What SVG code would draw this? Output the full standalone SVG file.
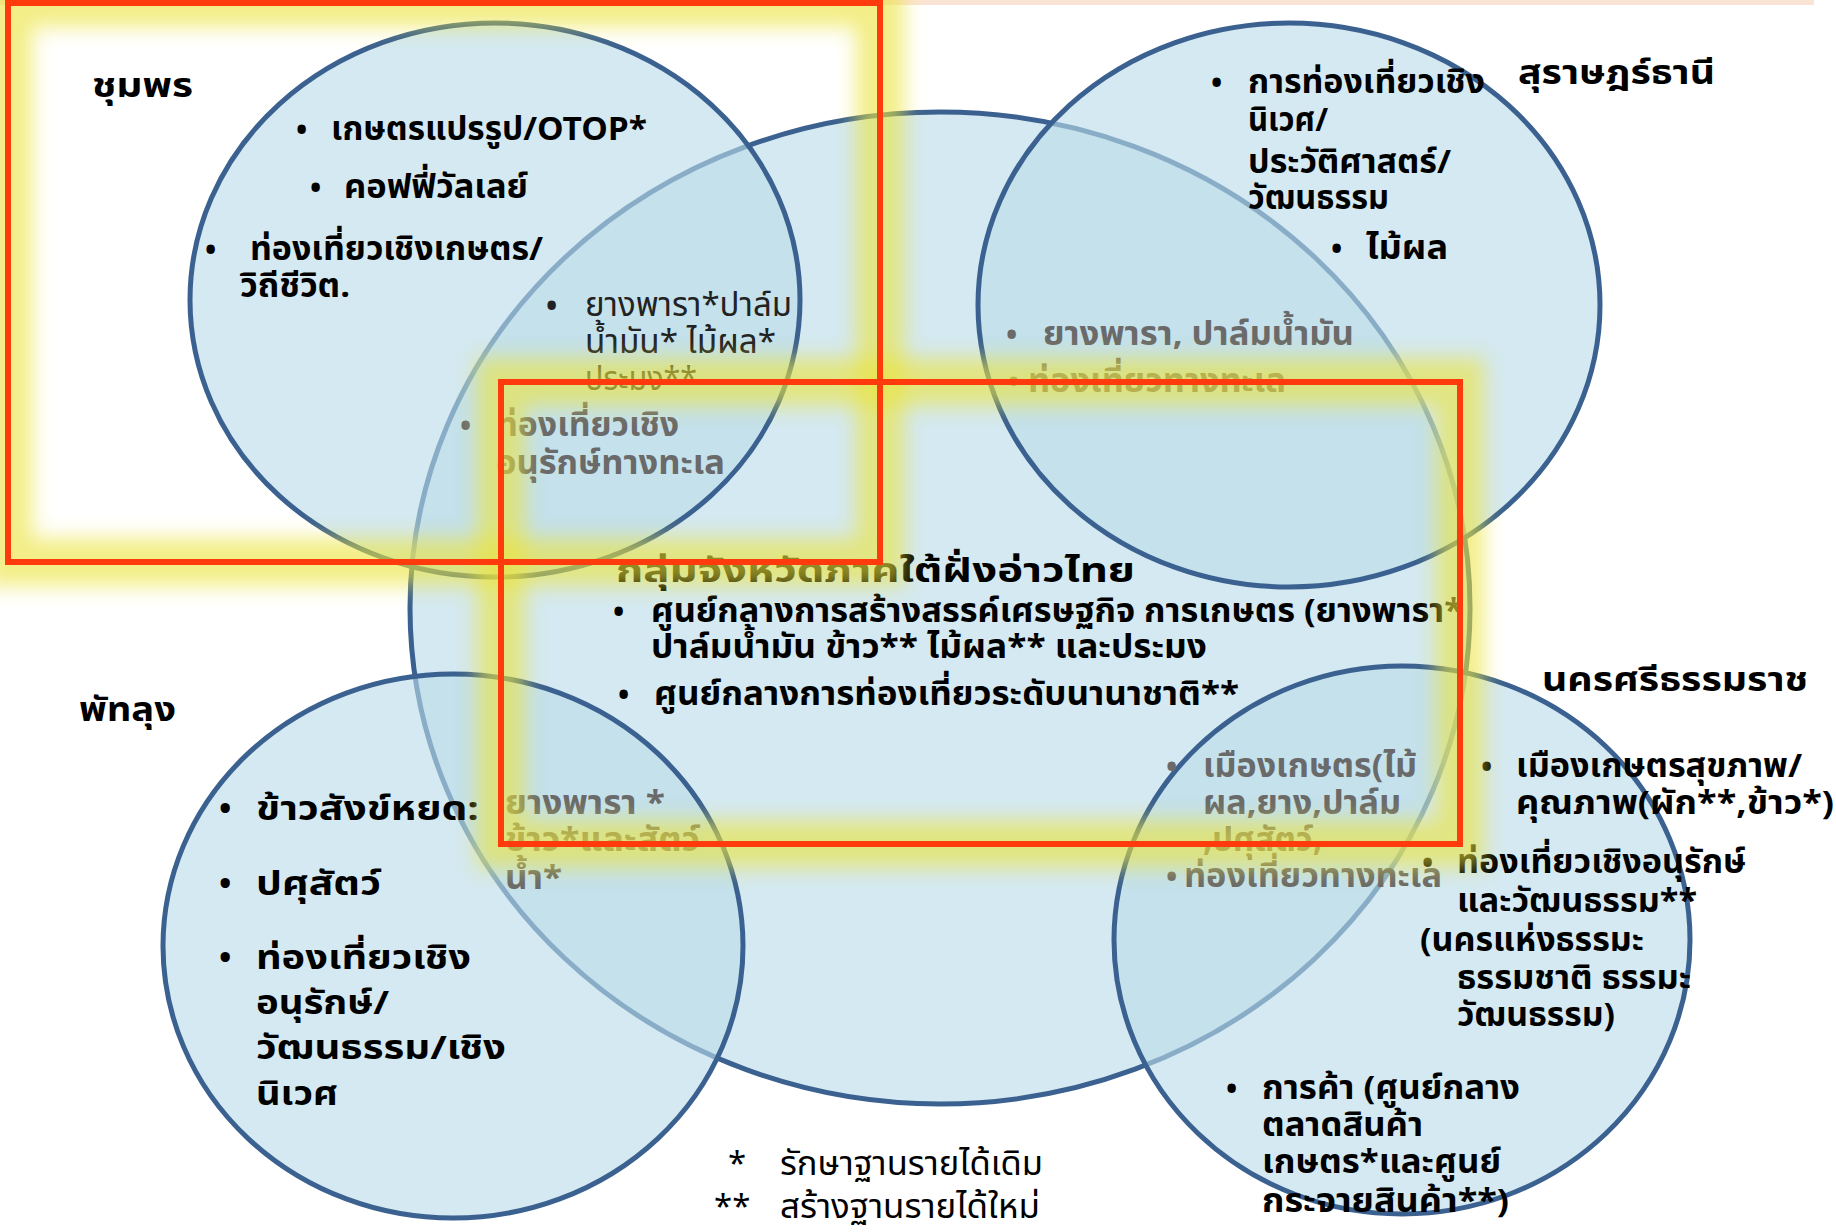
<svg xmlns="http://www.w3.org/2000/svg" width="1836" height="1232" viewBox="0 0 1836 1232">
<defs>
<style>
.t{font-family:"Noto Sans Thai","Noto Sans Thai UI",Tahoma,"DejaVu Sans",sans-serif;font-weight:700;fill:#000;font-size:33px}
.b{font-size:30px}
.r{font-weight:400}
.g{fill:#6a6a6a}
.d{fill:#222}
.ell{fill:#b9dce9;fill-opacity:.62;stroke:#3b6190;stroke-width:5}
.glow{fill:none;stroke:#ebe43c;stroke-width:48;opacity:.62}
.red{fill:none;stroke:#ff3a0c;stroke-width:6}
</style>
<filter id="blur" filterUnits="userSpaceOnUse" x="-100" y="-100" width="2036" height="1432">
<feGaussianBlur stdDeviation="10"/>
</filter>
</defs>
<rect x="0" y="0" width="1836" height="1232" fill="#fff"/>
<rect x="0" y="0" width="1814" height="5" fill="#fbe4d5"/>

<g id="node-center">
<ellipse class="ell" cx="940" cy="608" rx="530" ry="496"/>
</g>
<g id="node-chumphon">
<ellipse class="ell" cx="495" cy="300" rx="305" ry="277"/>
</g>
<g id="node-surat">
<ellipse class="ell" cx="1289" cy="305" rx="311" ry="282"/>
</g>
<g id="node-phatthalung">
<ellipse class="ell" cx="453" cy="946" rx="290" ry="272"/>
</g>
<g id="node-nakhon">
<ellipse class="ell" cx="1402" cy="940" rx="288" ry="274"/>
</g>

<g id="connectors"></g>

<g id="text-chumphon">
<text class="t" x="92" y="97" font-size="37" textLength="101" lengthAdjust="spacingAndGlyphs">ชุมพร</text>
<text class="t b" x="296" y="140">•</text>
<text class="t" x="331" y="140" textLength="316" lengthAdjust="spacingAndGlyphs">เกษตรแปรรูป/OTOP*</text>
<text class="t b" x="310" y="198">•</text>
<text class="t" x="344" y="198" textLength="184" lengthAdjust="spacingAndGlyphs">คอฟฟี่วัลเลย์</text>
<text class="t b" x="205" y="260">•</text>
<text class="t" x="250" y="260" textLength="293" lengthAdjust="spacingAndGlyphs">ท่องเที่ยวเชิงเกษตร/</text>
<text class="t" x="240" y="297" textLength="110" lengthAdjust="spacingAndGlyphs">วิถีชีวิต.</text>
<text class="t b d" x="546" y="316">•</text>
<text class="t r d" x="585" y="316" textLength="207" lengthAdjust="spacingAndGlyphs">ยางพารา*ปาล์ม</text>
<text class="t r d" x="585" y="353" textLength="191" lengthAdjust="spacingAndGlyphs">น้ำมัน* ไม้ผล*</text>
<text class="t r d" x="585" y="390" textLength="112" lengthAdjust="spacingAndGlyphs">ประมง**</text>
<text class="t b g" x="460" y="436">•</text>
<text class="t g" x="496" y="436" textLength="183" lengthAdjust="spacingAndGlyphs">ท่องเที่ยวเชิง</text>
<text class="t g" x="496" y="474" textLength="229" lengthAdjust="spacingAndGlyphs">อนุรักษ์ทางทะเล</text>
</g>

<g id="text-surat">
<text class="t" x="1518" y="84" font-size="36" textLength="197" lengthAdjust="spacingAndGlyphs">สุราษฎร์ธานี</text>
<text class="t b" x="1211" y="93">•</text>
<text class="t" x="1248" y="93" textLength="237" lengthAdjust="spacingAndGlyphs">การท่องเที่ยวเชิง</text>
<text class="t" x="1248" y="131" textLength="80" lengthAdjust="spacingAndGlyphs">นิเวศ/</text>
<text class="t" x="1248" y="173" textLength="203" lengthAdjust="spacingAndGlyphs">ประวัติศาสตร์/</text>
<text class="t" x="1248" y="209" textLength="141" lengthAdjust="spacingAndGlyphs">วัฒนธรรม</text>
<text class="t b" x="1331" y="259">•</text>
<text class="t" x="1366" y="259" textLength="82" lengthAdjust="spacingAndGlyphs">ไม้ผล</text>
<text class="t b g" x="1006" y="345">•</text>
<text class="t g" x="1043" y="345" textLength="311" lengthAdjust="spacingAndGlyphs">ยางพารา, ปาล์มน้ำมัน</text>
<text class="t b g" x="1008" y="392">•</text>
<text class="t g" x="1028" y="392" textLength="258" lengthAdjust="spacingAndGlyphs">ท่องเที่ยวทางทะเล</text>
</g>

<g id="text-center">
<text class="t" x="616" y="582" font-size="39" textLength="519" lengthAdjust="spacingAndGlyphs">กลุ่มจังหวัดภาคใต้ฝั่งอ่าวไทย</text>
<text class="t b" x="613" y="622">•</text>
<text class="t" x="651" y="622" textLength="812" lengthAdjust="spacingAndGlyphs">ศูนย์กลางการสร้างสรรค์เศรษฐกิจ การเกษตร (ยางพารา*</text>
<text class="t" x="651" y="658" textLength="556" lengthAdjust="spacingAndGlyphs">ปาล์มน้ำมัน ข้าว** ไม้ผล** และประมง</text>
<text class="t b" x="618" y="705">•</text>
<text class="t" x="654" y="705" textLength="585" lengthAdjust="spacingAndGlyphs">ศูนย์กลางการท่องเที่ยวระดับนานาชาติ**</text>
</g>

<g id="text-phatthalung">
<text class="t" x="79" y="721" font-size="36" textLength="97" lengthAdjust="spacingAndGlyphs">พัทลุง</text>
<text class="t" x="219" y="820" font-size="34">•</text>
<text class="t" x="256" y="820" font-size="38" textLength="223" lengthAdjust="spacingAndGlyphs">ข้าวสังข์หยด:</text>
<text class="t" x="219" y="895" font-size="34">•</text>
<text class="t" x="256" y="895" font-size="38" textLength="125" lengthAdjust="spacingAndGlyphs">ปศุสัตว์</text>
<text class="t" x="219" y="969" font-size="34">•</text>
<text class="t" x="256" y="969" font-size="38" textLength="215" lengthAdjust="spacingAndGlyphs">ท่องเที่ยวเชิง</text>
<text class="t" x="256" y="1014" font-size="38" textLength="133" lengthAdjust="spacingAndGlyphs">อนุรักษ์/</text>
<text class="t" x="256" y="1059" font-size="38" textLength="250" lengthAdjust="spacingAndGlyphs">วัฒนธรรม/เชิง</text>
<text class="t" x="256" y="1105" font-size="38" textLength="82" lengthAdjust="spacingAndGlyphs">นิเวศ</text>
<text class="t g" x="505" y="814" font-size="31" textLength="160" lengthAdjust="spacingAndGlyphs">ยางพารา *</text>
<text class="t g" x="505" y="851" font-size="31" textLength="195" lengthAdjust="spacingAndGlyphs">ข้าว*และสัตว์</text>
<text class="t g" x="505" y="889" font-size="31" textLength="57" lengthAdjust="spacingAndGlyphs">น้ำ*</text>
</g>

<g id="text-nakhon">
<text class="t" x="1542" y="691" font-size="36" textLength="266" lengthAdjust="spacingAndGlyphs">นครศรีธรรมราช</text>
<text class="t b g" x="1166" y="777">•</text>
<text class="t g" x="1203" y="777" textLength="214" lengthAdjust="spacingAndGlyphs">เมืองเกษตร(ไม้</text>
<text class="t g" x="1203" y="814" textLength="198" lengthAdjust="spacingAndGlyphs">ผล,ยาง,ปาล์ม</text>
<text class="t g" x="1203" y="851" textLength="119" lengthAdjust="spacingAndGlyphs">,ปศุสัตว์,</text>
<text class="t b g" x="1166" y="887">•</text>
<text class="t g" x="1184" y="887" textLength="258" lengthAdjust="spacingAndGlyphs">ท่องเที่ยวทางทะเล</text>
<text class="t b" x="1481" y="777">•</text>
<text class="t" x="1516" y="777" textLength="286" lengthAdjust="spacingAndGlyphs">เมืองเกษตรสุขภาพ/</text>
<text class="t" x="1516" y="814" textLength="318" lengthAdjust="spacingAndGlyphs">คุณภาพ(ผัก**,ข้าว*)</text>
<text class="t b" x="1422" y="873">•</text>
<text class="t" x="1457" y="873" textLength="289" lengthAdjust="spacingAndGlyphs">ท่องเที่ยวเชิงอนุรักษ์</text>
<text class="t" x="1457" y="912" textLength="240" lengthAdjust="spacingAndGlyphs">และวัฒนธรรม**</text>
<text class="t" x="1420" y="951" textLength="224" lengthAdjust="spacingAndGlyphs">(นครแห่งธรรมะ</text>
<text class="t" x="1457" y="989" textLength="234" lengthAdjust="spacingAndGlyphs">ธรรมชาติ ธรรมะ</text>
<text class="t" x="1457" y="1026" textLength="158" lengthAdjust="spacingAndGlyphs">วัฒนธรรม)</text>
<text class="t b" x="1226" y="1099">•</text>
<text class="t" x="1262" y="1099" textLength="258" lengthAdjust="spacingAndGlyphs">การค้า (ศูนย์กลาง</text>
<text class="t" x="1262" y="1136" textLength="161" lengthAdjust="spacingAndGlyphs">ตลาดสินค้า</text>
<text class="t" x="1262" y="1173" textLength="239" lengthAdjust="spacingAndGlyphs">เกษตร*และศูนย์</text>
<text class="t" x="1262" y="1212" textLength="247" lengthAdjust="spacingAndGlyphs">กระจายสินค้า**)</text>
</g>

<g id="legend">
<text class="t r" x="728" y="1175" font-size="33">*</text>
<text class="t r" x="780" y="1175" font-size="35" textLength="263" lengthAdjust="spacingAndGlyphs">รักษาฐานรายได้เดิม</text>
<text class="t r" x="714" y="1218" font-size="33">**</text>
<text class="t r" x="780" y="1218" font-size="35" textLength="260" lengthAdjust="spacingAndGlyphs">สร้างฐานรายได้ใหม่</text>
</g>

<g id="highlights">
<g filter="url(#blur)">
<rect class="glow" x="8" y="3" width="872" height="559"/>
<rect class="glow" x="501" y="382" width="959" height="462"/>
</g>
<rect class="red" x="8" y="3" width="872" height="559"/>
<rect class="red" x="501" y="382" width="959" height="462"/>
</g>
</svg>
